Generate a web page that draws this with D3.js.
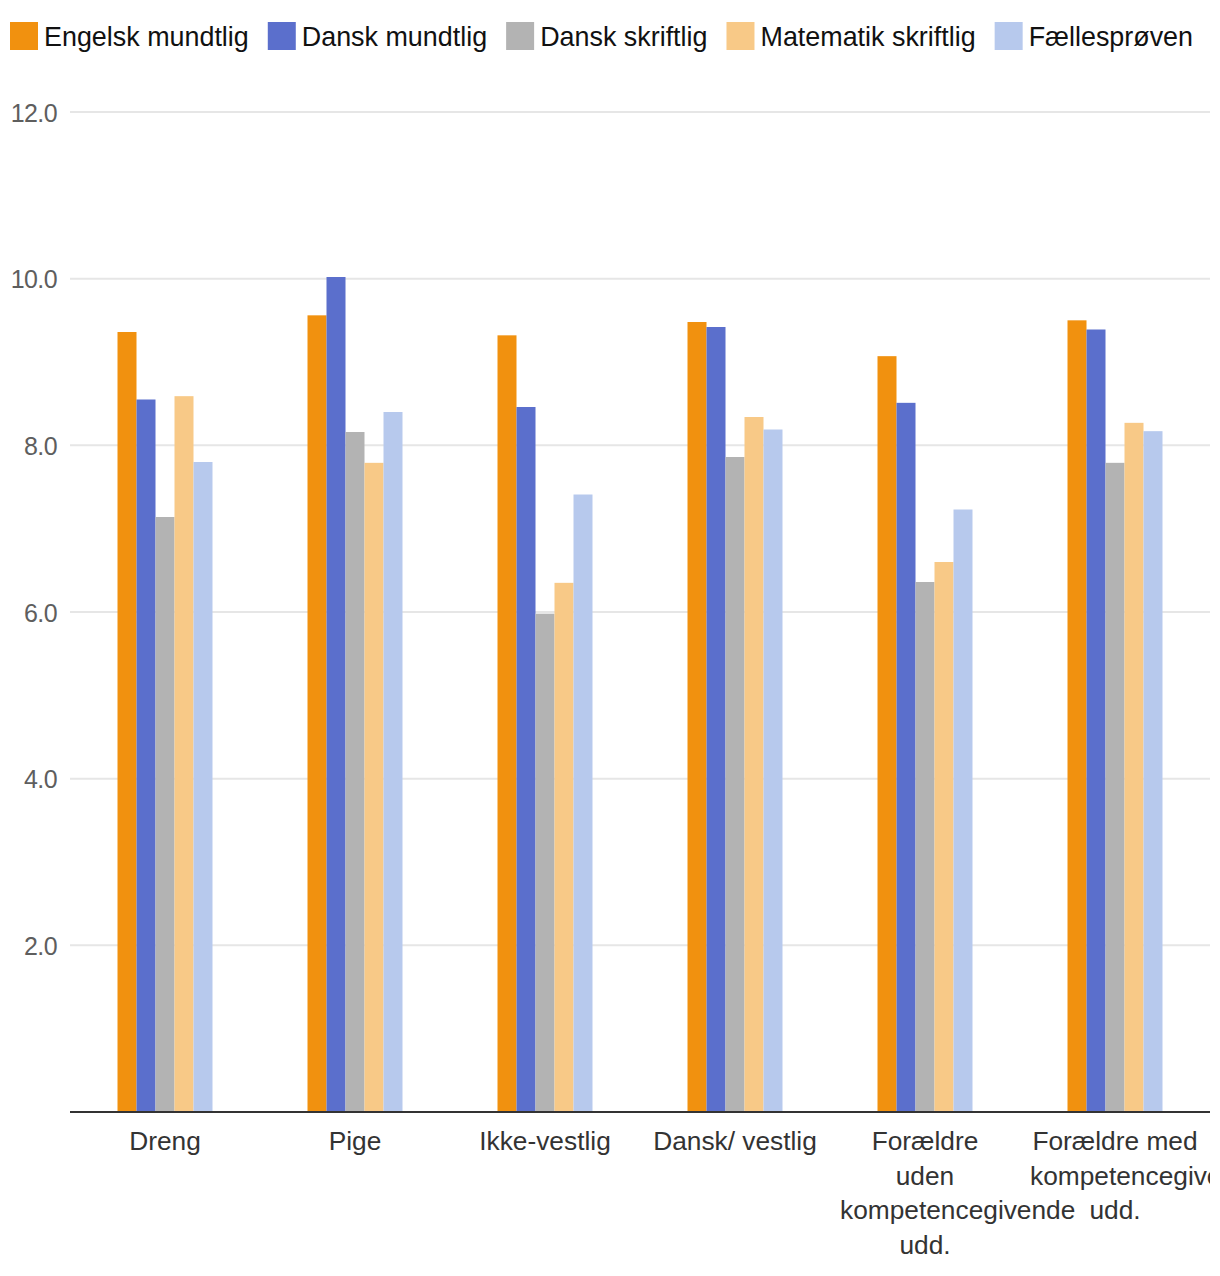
<!DOCTYPE html>
<html>
<head>
<meta charset="utf-8">
<script src="https://cdn.jsdelivr.net/npm/d3@7"></script>
<style>
  html, body { margin: 0; padding: 0; background: #fff; }
  svg { display: block; font-family: "Liberation Sans", Arial, sans-serif; }
</style>
</head>
<body>
<svg id="chart" width="1210" height="1276"></svg>
<script>
const categories = ["Dreng", "Pige", "Ikke-vestlig", "Dansk/ vestlig", "Forældre uden kompetencegivende udd.", "Forældre med kompetencegivende udd."];
const seriesNames = ["Engelsk mundtlig", "Dansk mundtlig", "Dansk skriftlig", "Matematik skriftlig", "Fællesprøven"];
const seriesColors = ["#f1910f", "#5b6fcc", "#b3b3b3", "#f8c987", "#b7c9ed"];
const engelskMundtlig = [9.36, 9.56, 9.32, 9.48, 9.07, 9.50];
const danskMundtlig   = [8.55, 10.02, 8.46, 9.42, 8.51, 9.39];
const danskSkriftlig  = [7.14, 8.16, 5.98, 7.86, 6.36, 7.79];
const matematik       = [8.59, 7.79, 6.35, 8.34, 6.60, 8.27];
const faellesproeven  = [7.80, 8.40, 7.41, 8.19, 7.23, 8.17];
const seriesValues = [engelskMundtlig, danskMundtlig, danskSkriftlig, matematik, faellesproeven];
const yTicks = [2, 4, 6, 8, 10, 12];

const svg = d3.select("#chart");
const margin = { left: 70, right: 1210, top: 112, bottom: 1112 };

const x0 = d3.scaleBand().domain(categories).range([margin.left, margin.right]).paddingInner(0.5).paddingOuter(0.25);
const x1 = d3.scaleBand().domain(seriesNames).range([0, x0.bandwidth()]);
const y = d3.scaleLinear().domain([0, 12]).range([margin.bottom, margin.top]);

// gridlines
svg.append("g").selectAll("line").data(yTicks).join("line")
  .attr("x1", margin.left).attr("x2", margin.right)
  .attr("y1", d => y(d)).attr("y2", d => y(d))
  .attr("stroke", "#e6e6e6").attr("stroke-width", 2);

// y tick labels
svg.append("g").selectAll("text").data(yTicks).join("text")
  .attr("x", 57).attr("y", d => y(d) + 9.5)
  .attr("text-anchor", "end")
  .attr("fill", "#5e5e5e")
  .attr("font-size", 25)
  .attr("letter-spacing", -0.6)
  .text(d => d.toFixed(1));

// bars
const groups = svg.append("g").selectAll("g").data(categories).join("g")
  .attr("transform", d => `translate(${x0(d)},0)`);
groups.selectAll("rect")
  .data((c, ci) => seriesNames.map((s, si) => ({ s, si, v: seriesValues[si][ci] })))
  .join("rect")
  .attr("x", d => x1(d.s))
  .attr("width", x1.bandwidth())
  .attr("y", d => y(d.v))
  .attr("height", d => y(0) - y(d.v))
  .attr("fill", d => seriesColors[d.si]);

// baseline
svg.append("line")
  .attr("x1", margin.left).attr("x2", margin.right)
  .attr("y1", y(0)).attr("y2", y(0))
  .attr("stroke", "#333").attr("stroke-width", 2);

// x labels with wrapping (box width like HTML, long words overflow to the right)
const boxW = 170, lineH = 34.5, labelFont = 26.3;
const xl = svg.append("g");
categories.forEach(c => {
  const cx = x0(c) + x0.bandwidth() / 2;
  const boxLeft = cx - boxW / 2;
  const measure = xl.append("text").attr("font-size", labelFont);
  const words = c.split(" ");
  const lines = [];
  let cur = "";
  words.forEach(w => {
    const test = cur ? cur + " " + w : w;
    measure.text(test);
    if (measure.node().getComputedTextLength() <= boxW || !cur) { cur = test; }
    else { lines.push(cur); cur = w; }
  });
  if (cur) lines.push(cur);
  measure.remove();
  lines.forEach((ln, i) => {
    const t = xl.append("text").attr("font-size", labelFont).attr("fill", "#333").text(ln);
    const w = t.node().getComputedTextLength();
    if (w > boxW) t.attr("x", boxLeft).attr("text-anchor", "start");
    else t.attr("x", cx).attr("text-anchor", "middle");
    t.attr("y", 1150 + i * lineH);
  });
});

// legend
const lg = svg.append("g");
let lx = 10;
seriesNames.forEach((s, i) => {
  lg.append("rect").attr("x", lx).attr("y", 22).attr("width", 28).attr("height", 28).attr("fill", seriesColors[i]);
  const t = lg.append("text").attr("x", lx + 34).attr("y", 45.5).attr("font-size", 26.9).attr("fill", "#111").text(s);
  lx += 34 + t.node().getComputedTextLength() + 19;
});
</script>
</body>
</html>
